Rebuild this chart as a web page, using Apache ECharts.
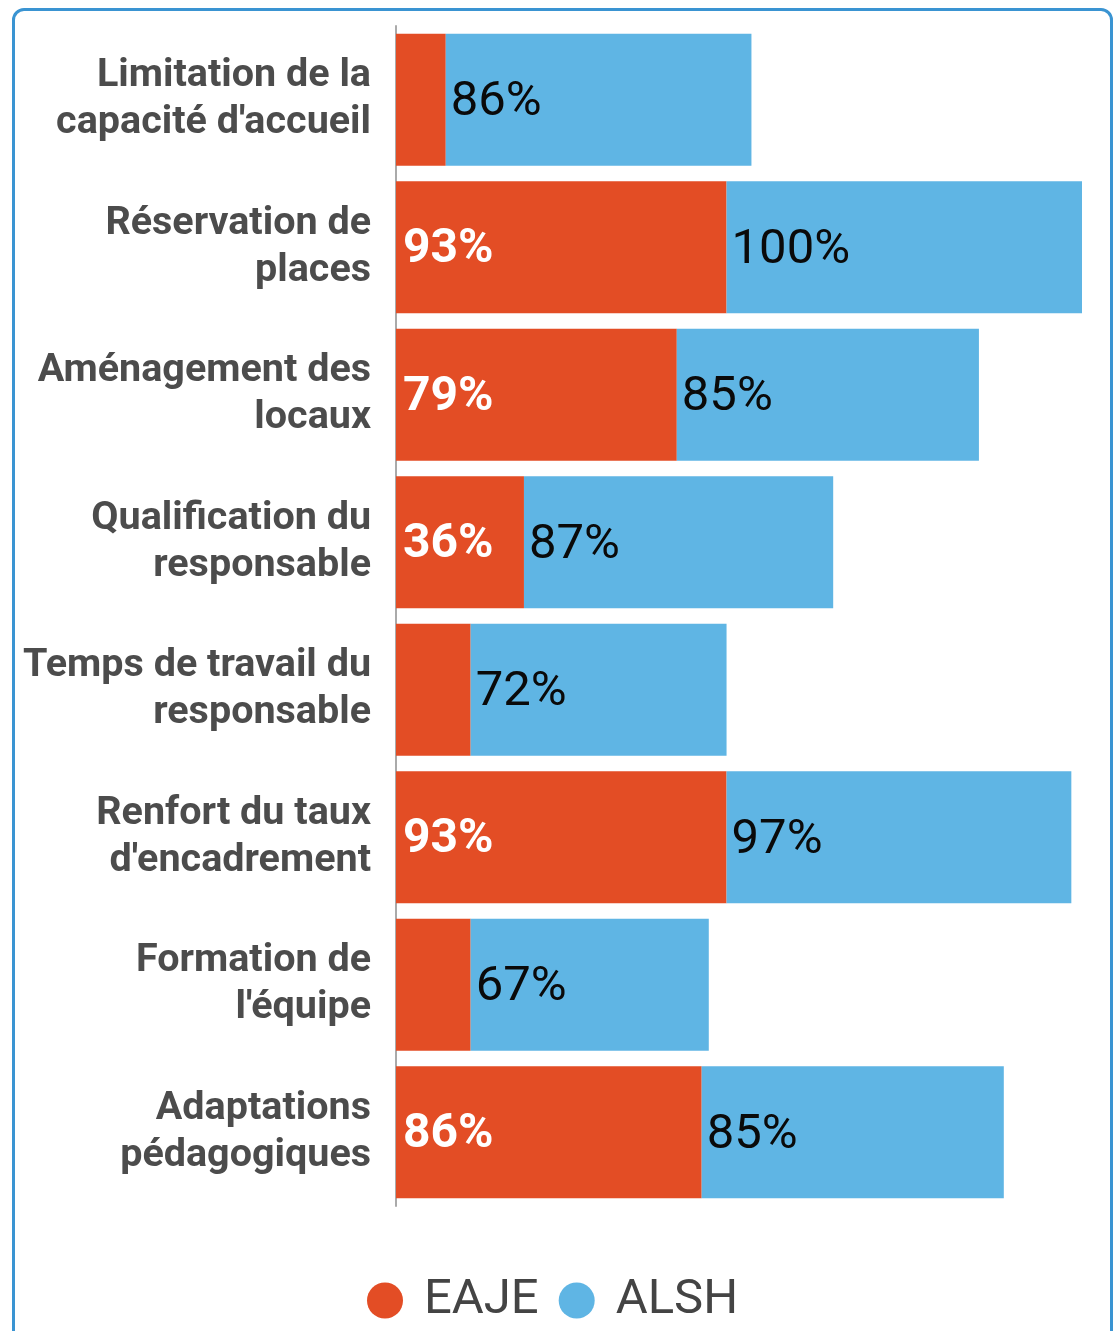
<!DOCTYPE html>
<html>
<head>
<meta charset="utf-8">
<script src="https://cdn.jsdelivr.net/npm/echarts@6/dist/echarts.min.js"></script>
<style>
  html, body { margin: 0; padding: 0; background: #fff; overflow: hidden; }
  #frame {
    position: absolute; left: 12px; top: 8px; width: 1095px; height: 1400px;
    border: 3px solid #3a94d2; border-radius: 12px;
  }
  #chart { position: absolute; left: 0; top: 0; width: 1119px; height: 1331px; }
</style>
</head>
<body>
<div id="frame"></div>
<div id="chart"></div>
<script>
  // categories, top to bottom
  const categories = [
    'Limitation de la\ncapacité d\'accueil',
    'Réservation de\nplaces',
    'Aménagement des\nlocaux',
    'Qualification du\nresponsable',
    'Temps de travail du\nresponsable',
    'Renfort du taux\nd\'encadrement',
    'Formation de\nl\'équipe',
    'Adaptations\npédagogiques'
  ]
  const eaje = [14, 93, 79, 36, 21, 93, 21, 86]
  const alsh = [86, 100, 85, 87, 72, 97, 67, 85]

  // les petites barres EAJE n'ont pas d'étiquette
  const LABEL_MIN = 30

  const chart = echarts.init(document.getElementById('chart'))

  chart.setOption({
    animation: false,
    legend: {
      data: ['EAJE', 'ALSH'],
      left: 362,
      top: 1271,
      icon: 'circle',
      itemWidth: 36,
      itemHeight: 36,
      itemGap: 20,
      textStyle: {
        fontFamily: 'Roboto',
        fontSize: 49,
        color: '#444',
        padding: [0, 0, 0, 16]
      }
    },
    grid: { left: 396, right: 37, top: 26, bottom: 125, containLabel: false },
    xAxis: {
      type: 'value',
      min: 0,
      max: 'dataMax',
      show: false
    },
    yAxis: {
      type: 'category',
      inverse: true,
      data: categories,
      axisLine: { show: true, lineStyle: { color: '#aaa', width: 2 } },
      axisTick: { show: false },
      axisLabel: {
        margin: 25,
        fontFamily: 'Roboto',
        fontWeight: 'bold',
        fontSize: 39.5,
        lineHeight: 47,
        color: '#4c4c4c',
        align: 'right',
        padding: [12, 0, 0, 0]
      }
    },
    series: [
      {
        name: 'EAJE',
        type: 'bar',
        stack: 'total',
        barCategoryGap: '10.5%',
        data: eaje,
        itemStyle: { color: '#e34d25' },
        label: {
          show: true,
          position: 'insideLeft',
          distance: 7,
          offset: [0, 3],
          fontFamily: 'Roboto',
          fontWeight: 'bold',
          fontSize: 48,
          color: '#fff',
          formatter: p => (p.value >= LABEL_MIN ? p.value + '%' : '')
        }
      },
      {
        name: 'ALSH',
        type: 'bar',
        stack: 'total',
        data: alsh,
        itemStyle: { color: '#5fb5e4' },
        label: {
          show: true,
          position: 'insideLeft',
          distance: 5,
          offset: [0, 3],
          fontFamily: 'Roboto',
          fontSize: 49,
          color: '#0a0a0a',
          formatter: '{c}%'
        }
      }
    ]
  })
</script>
</body>
</html>
